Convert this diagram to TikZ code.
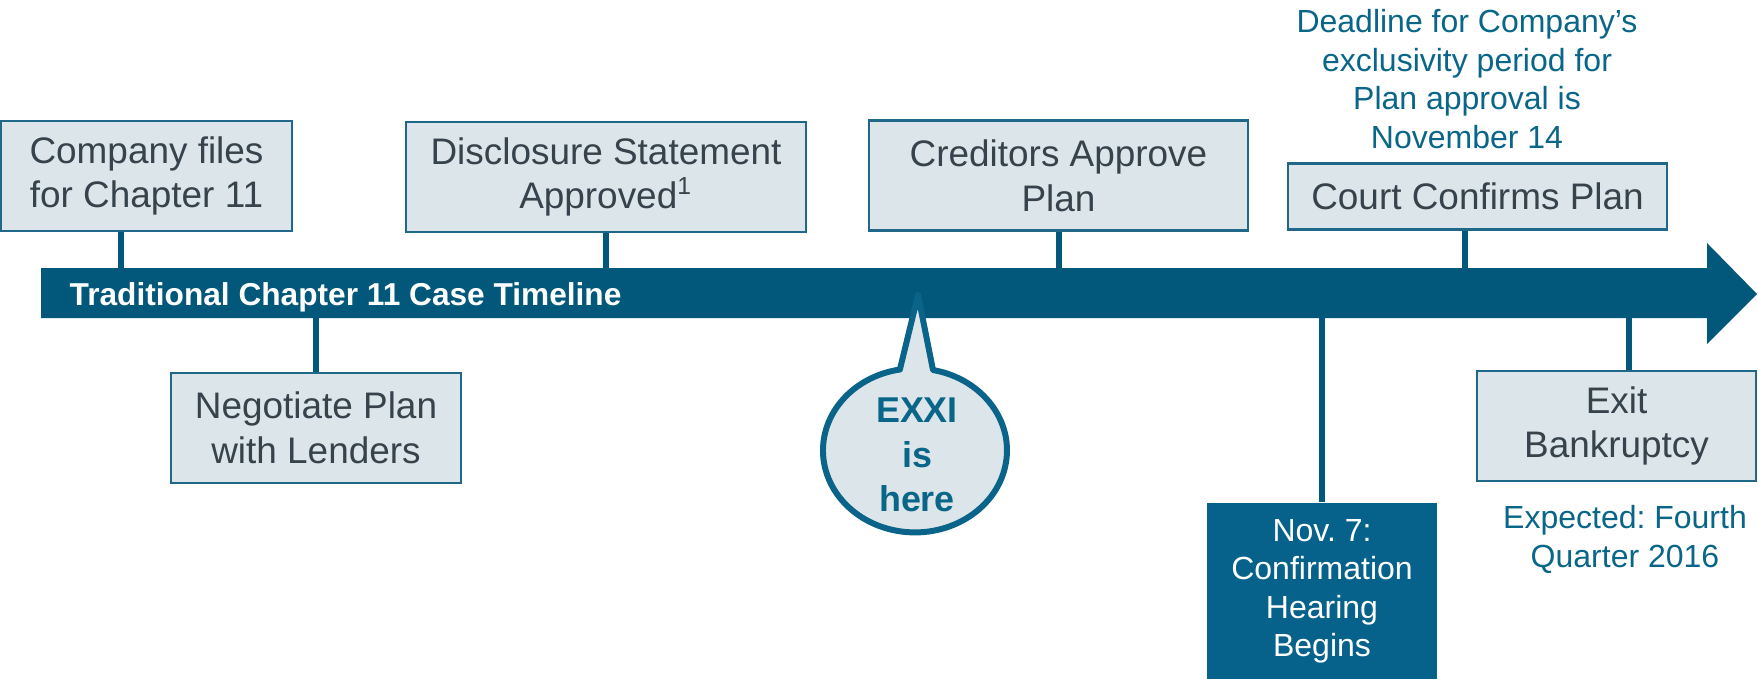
\documentclass[tikz,border=0pt]{standalone}
\usepackage{fontspec}
\setmainfont{Liberation Sans}
\usepackage{tikz}
\usepackage{xcolor}
\definecolor{timeline}{HTML}{02587A}
\definecolor{boxfill}{HTML}{DCE6EA}
\definecolor{boxline}{HTML}{20688A}
\definecolor{boxtext}{HTML}{37434C}
\definecolor{bluetext}{HTML}{0A6689}
\definecolor{bubbleline}{HTML}{0A6388}
\definecolor{darkbox}{HTML}{06628A}
\newcommand{\evfont}{\fontsize{10.5}{12.7}\selectfont}
\newcommand{\notefont}{\fontsize{9.1}{10.95}\selectfont}
\frenchspacing

\begin{document}
\begin{tikzpicture}[x=0.01cm,y=-0.01cm,
  event/.style={draw=boxline,line width=0.6pt,fill=boxfill,text=boxtext,align=center,inner sep=0pt,font=\evfont},
  stem/.style={draw=timeline,line width=1.7pt},
  note/.style={text=bluetext,align=center,inner sep=0pt,font=\notefont}]
\useasboundingbox (0,0) rectangle (1758,679);
% the timeline arrow
\fill[timeline] (41,268) -- (1707,268) -- (1707,243) -- (1757,294) -- (1707,344) -- (1707,318) -- (41,318) -- cycle;
\coordinate (bartop) at (41,268);
\coordinate (barbot) at (41,318);
\node[anchor=base west,text=white,inner sep=0pt,font=\fontsize{9}{11}\bfseries\selectfont] (title) at (69,305) {Traditional Chapter 11 Case Timeline};

% steps above the line
\node[event,minimum width=2.91cm,minimum height=1.1cm] (files) at (146.5,176) {Company files\\for Chapter 11};
\node[event,minimum width=4.0cm,minimum height=1.1cm] (disclosure) at (606,177) {Disclosure Statement\\Approved\textsuperscript{\scriptsize 1}};
\node[event,minimum width=3.79cm,minimum height=1.1cm] (creditors) at (1058.5,175.5) {Creditors Approve\\Plan};
\node[event,minimum width=3.79cm,minimum height=0.66cm] (court) at (1477.5,196.5) {Court Confirms Plan};
\draw[stem] ([xshift=-0.25cm]files.south) -- ([xshift=-0.25cm]files.south |- bartop);
\draw[stem] (disclosure.south) -- (disclosure.south |- bartop);
\draw[stem] (creditors.south) -- (creditors.south |- bartop);
\draw[stem] ([xshift=-0.125cm]court.south) -- ([xshift=-0.125cm]court.south |- bartop);
\node[note,anchor=north] (deadline) at (1467,9) {Deadline for Company’s\\exclusivity period for\\Plan approval is\\November 14};

% steps below the line
\node[event,minimum width=2.9cm,minimum height=1.1cm] (negotiate) at (316,428) {Negotiate Plan\\with Lenders};
\node[fill=darkbox,text=white,align=center,inner sep=0pt,minimum width=2.3cm,minimum height=1.77cm,font=\notefont] (hearing) at (1322,591.5) {Nov. 7:\\Confirmation\\Hearing\\Begins};
\node[event,minimum width=2.79cm,minimum height=1.1cm] (exit) at (1616.5,426) {Exit\\Bankruptcy};
\draw[stem] (negotiate.north) -- (negotiate.north |- barbot);
\draw[stem] (hearing.north) -- (hearing.north |- barbot);
\draw[stem] ([xshift=0.12cm]exit.north) -- ([xshift=0.12cm]exit.north |- barbot);
\node[note,anchor=north] (expected) at (1625,505) {Expected: Fourth\\Quarter 2016};

% speech bubble on the line
\filldraw[fill=boxfill,draw=bubbleline,line width=1.7pt,line join=round] (900,369) -- (918,295) -- (933,370) arc[start angle=-78.7,end angle=260.6,x radius=92,y radius=82] -- cycle;
\node[text=bluetext,align=center,inner sep=0pt,font=\fontsize{10.2}{12.66}\bfseries\selectfont] (here) at (917,455) {EXXI\\is\\here};
\end{tikzpicture}
\end{document}
